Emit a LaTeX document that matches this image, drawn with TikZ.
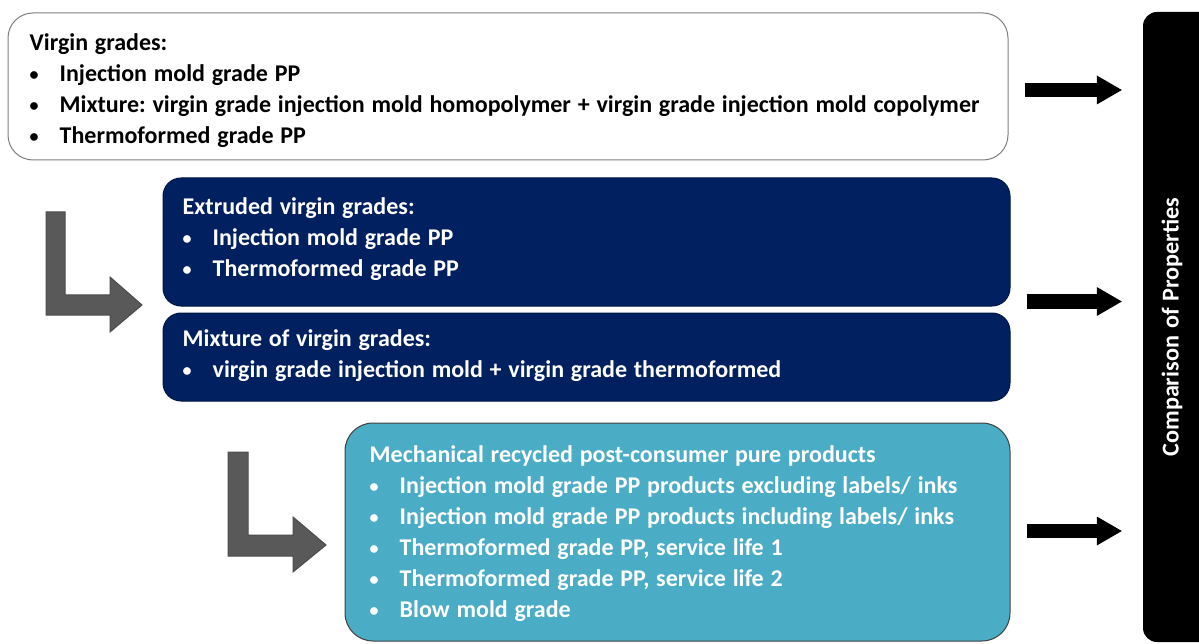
\documentclass[tikz,border=0pt]{standalone}
\usepackage{fontspec}
\setmainfont{Carlito}[WordSpace=1.25]
\usepackage{xcolor}
\usepackage{tikz}
\usetikzlibrary{arrows.meta}
\definecolor{navy}{HTML}{002060}
\definecolor{teal}{HTML}{4BACC6}
\definecolor{arrowgray}{HTML}{595959}
\definecolor{edgegray}{HTML}{7F7F7F}
\newcommand{\bul}{\makebox[30pt][l]{\raisebox{1pt}{\fontsize{18}{18}\selectfont\textbullet}}}
\tikzset{
  box/.style={rounded corners=18pt,line width=1pt,inner sep=0pt},
  whitebox/.style={box,draw=edgegray,fill=white,rounded corners=25pt},
  navybox/.style={box,draw=navy!70!black,fill=navy},
  tealbox/.style={box,draw=black!75,fill=teal,rounded corners=28pt},
  boxtext/.style={anchor=west,align=left,inner sep=0pt,
    font=\fontsize{24}{31}\selectfont\bfseries\frenchspacing},
  blockarrow/.style={draw=black,line width=14pt,-{Triangle[length=25pt,width=29pt,line width=0pt]}},
  bentarrow/.style={fill=arrowgray,draw=black!70,line width=1pt,line join=miter}
}

\begin{document}
\begin{tikzpicture}[x=1pt,y=-1pt]
  \clip (0,0) rectangle (1199,644);
  \fill[white] (0,0) rectangle (1199,644);
  % boxes
  \node[whitebox,minimum width=1000pt,minimum height=147pt] (virgin) at (508,86.5) {};
  \node[navybox,minimum width=847pt,minimum height=128pt] (ext) at (586.5,242) {};
  \node[navybox,minimum width=847pt,minimum height=88pt] (mix) at (586.5,357) {};
  \node[tealbox,minimum width=665pt,minimum height=218pt] (rec) at (677.5,532) {};
  \node[fill=black,rounded corners=14pt,minimum width=72pt,minimum height=630pt,inner sep=0pt]
    (cmp) at (1179,327) {};
  % texts
  \node[boxtext,text=black] (virgintext) at ([xshift=22pt,yshift=-4.5pt]virgin.west) {Virgin grades:\\
    \bul Injection mold grade PP\\
    \bul Mixture: virgin grade injection mold homopolymer + virgin grade injection mold copolymer\\
    \bul Thermoformed grade PP};
  \node[boxtext,text=white] (exttext) at ([xshift=20pt,yshift=3pt]ext.west) {Extruded virgin grades:\\
    \bul Injection mold grade PP\\
    \bul Thermoformed grade PP};
  \node[boxtext,text=white] (mixtext) at ([xshift=20pt,yshift=1pt]mix.west) {Mixture of virgin grades:\\
    \bul virgin grade injection mold + virgin grade thermoformed};
  \node[boxtext,text=white] (rectext) at ([xshift=25pt,yshift=-2pt]rec.west) {Mechanical recycled post-consumer pure products\\
    \bul Injection mold grade PP products excluding labels/ inks\\
    \bul Injection mold grade PP products including labels/ inks\\
    \bul Thermoformed grade PP, service life 1\\
    \bul Thermoformed grade PP, service life 2\\
    \bul Blow mold grade};
  \node[rotate=90,text=white,font=\fontsize{24.2}{28}\selectfont\bfseries]
    (cmptext) at (1172,327) {Comparison of Properties};
  % arrows to the comparison
  \draw[blockarrow] ([xshift=16pt,yshift=-3.5pt]virgin.east) -- ([xshift=-21pt,yshift=-3.5pt]virgin.east -| cmp.west);
  \draw[blockarrow] ([xshift=16pt,yshift=5pt]ext.south east) -- ([xshift=-21pt,yshift=5pt]ext.south east -| cmp.west);
  \draw[blockarrow] ([xshift=16pt,yshift=1pt]rec.east) -- ([xshift=-21pt,yshift=1pt]rec.east -| cmp.west);
  % bent arrows
  \filldraw[bentarrow] (46,212) -- (65,212) -- (65,295) -- (110,295) -- (110,277) -- (142,305)
    -- (110,332) -- (110,315) -- (46,315) -- cycle;
  \filldraw[bentarrow] (228,452) -- (248,452) -- (248,535) -- (293,535) -- (293,517) -- (326,545)
    -- (293,572) -- (293,556) -- (228,556) -- cycle;
\end{tikzpicture}
\end{document}
